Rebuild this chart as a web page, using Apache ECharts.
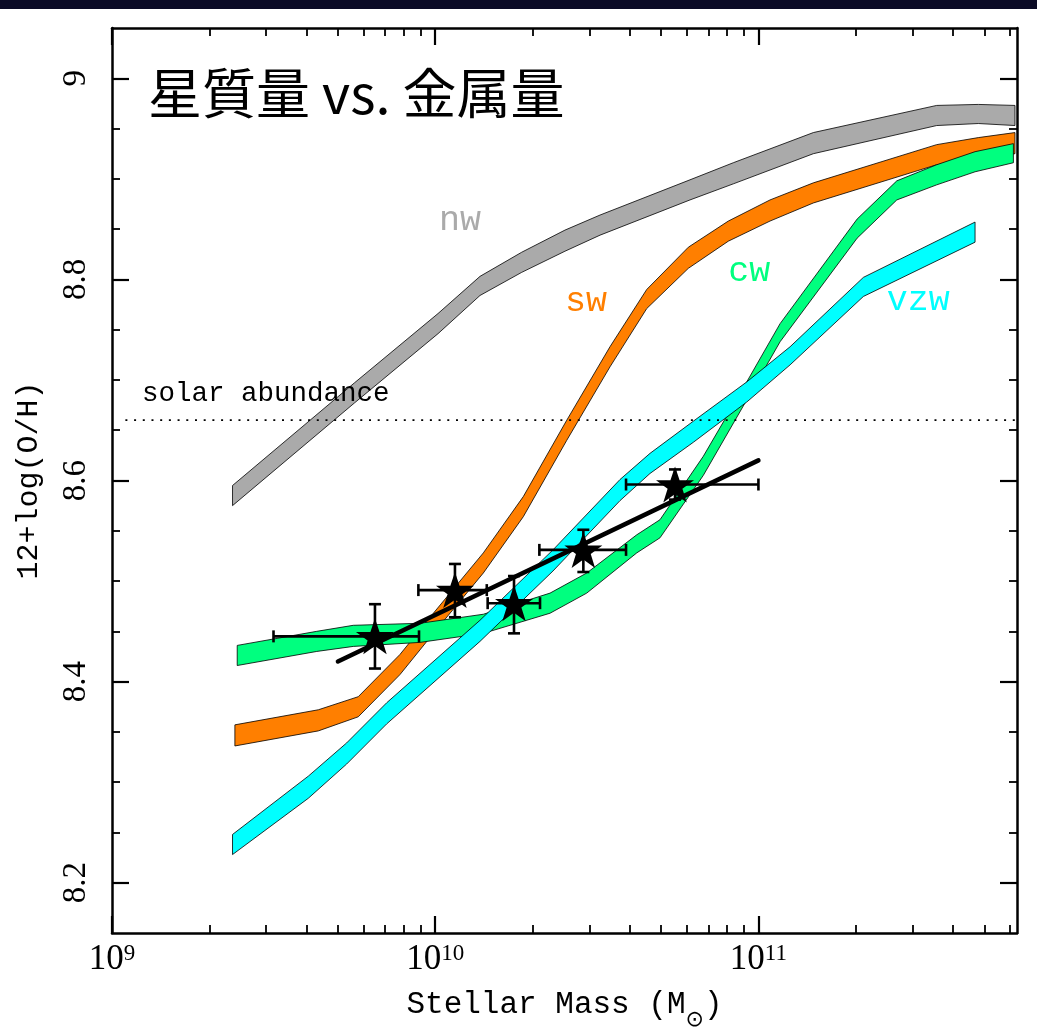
<!DOCTYPE html>
<html><head><meta charset="utf-8">
<script src="https://cdn.jsdelivr.net/npm/echarts@6/dist/echarts.min.js"></script>
<style>html,body{margin:0;padding:0;background:#fff}#c{width:1037px;height:1036px}</style>
</head><body><div id="c"></div>
<script>
// ---- model bands (stellar mass in Msun, 12+log(O/H) upper / lower edges) ----
const nwMass  = [2.36e9, 5.62e9, 1.02e10, 1.376e10, 1.852e10, 2.52e10, 3.236e10, 6.14e10, 8.36e10, 1.479e11, 3.56e11, 4.79e11, 6.22e11];
const nwUpper = [8.595, 8.697, 8.766, 8.803, 8.827, 8.849, 8.864, 8.899, 8.916, 8.946, 8.973, 8.974, 8.973];
const nwLower = [8.575, 8.677, 8.746, 8.784, 8.807, 8.828, 8.844, 8.879, 8.895, 8.925, 8.953, 8.955, 8.953];

const swMass  = [2.40e9, 4.35e9, 5.78e9, 7.78e9, 9.87e9, 1.409e10, 1.873e10, 2.553e10, 3.473e10, 4.513e10, 6.07e10, 8.07e10, 1.086e11, 1.479e11, 3.56e11, 4.79e11, 6.22e11];
const swUpper = [8.357, 8.372, 8.385, 8.427, 8.468, 8.528, 8.584, 8.660, 8.733, 8.790, 8.832, 8.858, 8.879, 8.896, 8.934, 8.941, 8.946];
const swLower = [8.336, 8.351, 8.365, 8.407, 8.448, 8.508, 8.564, 8.640, 8.713, 8.771, 8.811, 8.838, 8.858, 8.876, 8.914, 8.920, 8.925];

const cwMass  = [2.44e9, 4.30e9, 5.58e9, 8.97e9, 1.409e10, 2.266e10, 2.943e10, 4.203e10, 4.96e10, 6.75e10, 9.20e10, 1.167e11, 2.02e11, 2.68e11, 3.56e11, 4.68e11, 6.15e11];
const cwUpper = [8.436, 8.450, 8.456, 8.458, 8.467, 8.488, 8.508, 8.546, 8.561, 8.624, 8.698, 8.756, 8.860, 8.898, 8.914, 8.927, 8.935];
const cwLower = [8.416, 8.430, 8.435, 8.439, 8.448, 8.468, 8.488, 8.528, 8.543, 8.605, 8.680, 8.738, 8.841, 8.879, 8.894, 8.907, 8.916];

const vzwMass  = [2.36e9, 4.05e9, 5.32e9, 7.08e9, 1.376e10, 2.314e10, 3.731e10, 4.62e10, 6.29e10, 9.20e10, 1.253e11, 2.112e11, 4.68e11];
const vzwUpper = [8.248, 8.306, 8.339, 8.379, 8.461, 8.531, 8.601, 8.627, 8.659, 8.698, 8.733, 8.802, 8.857];
const vzwLower = [8.228, 8.284, 8.318, 8.358, 8.440, 8.510, 8.580, 8.607, 8.638, 8.678, 8.715, 8.783, 8.837];

// ---- observed points ----
const obsMass   = [6.51e9, 1.151e10, 1.753e10, 2.873e10, 5.52e10];
const obsOH     = [8.445, 8.491, 8.478, 8.531, 8.596];
const obsMassLo = [3.16e9, 8.87e9, 1.453e10, 2.10e10, 3.894e10];
const obsMassHi = [8.91e9, 1.444e10, 2.11e10, 3.894e10, 1.0e11];
const obsOHLo   = [8.413, 8.464, 8.448, 8.509, 8.581];
const obsOHHi   = [8.477, 8.517, 8.505, 8.551, 8.611];

// ---- fit line and solar abundance ----
const fitMass = [5.0e9, 1.0e11];
const fitOH   = [8.42, 8.62];
const solarMass = [1.1e9, 6.31e11];
const solarOH   = [8.66, 8.66];

// ---- labels ----
const bandLabels    = ['nw', 'sw', 'cw', 'vzw'];
const bandLabelMass = [1.193e10, 2.926e10, 9.365e10, 3.124e11];
const bandLabelOH   = [8.858, 8.778, 8.808, 8.7785];
const solarLabel = 'solar abundance';
const solarLabelMass = 1.238e9;
const solarLabelOH = 8.6865;
const titleText = '星質量 vs. 金属量';

// ---- ticks ----
const xMajorTicks = [1e9, 1e10, 1e11];
const xMinorTicks = [2e9,3e9,4e9,5e9,6e9,7e9,8e9,9e9, 2e10,3e10,4e10,5e10,6e10,7e10,8e10,9e10, 2e11,3e11,4e11,5e11,6e11];
const yMajorTicks = [8.2, 8.4, 8.6, 8.8, 9.0];
const yTickLabels = ['8.2', '8.4', '8.6', '8.8', '9'];
const yMinorTicks = [8.25,8.3,8.35, 8.45,8.5,8.55, 8.65,8.7,8.75, 8.85,8.9,8.95];

const colors = {nw:'#aaaaaa', sw:'#ff7f00', cw:'#00ff7f', vzw:'#00ffff'};
const XMIN = 1e9, XMAX = 6.31e11, YMIN = 8.15, YMAX = 9.05;

function bandSeries(name, mass, up, low, color) {
  return {
    type: 'custom', name, coordinateSystem: 'cartesian2d', clip: true, silent: true,
    data: mass.map((m, i) => [m, up[i], low[i]]),
    encode: {x: 0, y: [1, 2]},
    renderItem(params, api) {
      if (params.dataIndex !== 0) return null;
      const pts = [];
      for (let i = 0; i < mass.length; i++) pts.push(api.coord([mass[i], up[i]]));
      for (let i = mass.length - 1; i >= 0; i--) pts.push(api.coord([mass[i], low[i]]));
      return {type: 'polygon', shape: {points: pts}, style: {fill: color, stroke: '#000', lineWidth: 0.8}};
    }
  };
}

function xAxisDef(pos, ticks, len, opts) {
  return Object.assign({
    type: 'log', logBase: 10, min: XMIN, max: XMAX, position: pos,
    axisLine: {show: false, onZero: false},
    axisTick: {show: true, inside: true, length: len, customValues: ticks, lineStyle: {color: '#000', width: len > 10 ? 2.2 : 1.8}},
    axisLabel: {show: false},
    splitLine: {show: false}, minorTick: {show: false}, minorSplitLine: {show: false}
  }, opts || {});
}
function yAxisDef(pos, ticks, len, opts) {
  return Object.assign({
    type: 'value', min: YMIN, max: YMAX, position: pos,
    axisLine: {show: false, onZero: false},
    axisTick: {show: true, inside: true, length: len, customValues: ticks, lineStyle: {color: '#000', width: len > 10 ? 2.2 : 1.8}},
    axisLabel: {show: false},
    splitLine: {show: false}, minorTick: {show: false}, minorSplitLine: {show: false}
  }, opts || {});
}
const frameLine = {show: true, onZero: false, lineStyle: {color: '#000', width: 2.5}};

const option = {
  animation: false,
  backgroundColor: '#ffffff',
  title: {
    text: titleText, left: 148, top: 66, padding: 0,
    textStyle: {fontFamily: '"Noto Sans CJK JP"', fontSize: 54, fontWeight: 'normal', color: '#000'}
  },
  graphic: [{type: 'rect', left: 0, top: 0, shape: {width: 1037, height: 9}, style: {fill: '#0b0b26'}, z: 100}],
  grid: {left: 112, top: 28, right: 20, bottom: 103, containLabel: false},
  xAxis: [
    xAxisDef('bottom', xMajorTicks, 17, {
      axisLine: frameLine,
      axisLabel: {
        show: true, customValues: xMajorTicks, margin: 9,
        formatter: v => '{b|10}{s|' + Math.round(Math.log10(v)) + '}',
        rich: {
          b: {fontFamily: '"Liberation Serif"', fontSize: 35, lineHeight: 35, padding: [5, 0, 0, 0], verticalAlign: 'bottom', color: '#000'},
          s: {fontFamily: '"Liberation Serif"', fontSize: 23, lineHeight: 23, verticalAlign: 'top', color: '#000'}
        }
      },
      name: 'Stellar Mass (M{sub|⊙})', nameLocation: 'middle', nameGap: 56,
      nameTextStyle: {
        fontFamily: '"Liberation Mono"', fontSize: 31, color: '#000', lineHeight: 31, verticalAlign: 'top',
        rich: {sub: {fontFamily: '"DejaVu Sans"', fontSize: 22, lineHeight: 22, padding: [20, 0, 0, 0], verticalAlign: 'top', color: '#000'}}
      }
    }),
    xAxisDef('bottom', xMinorTicks, 8),
    xAxisDef('top', xMajorTicks, 17, {axisLine: frameLine}),
    xAxisDef('top', xMinorTicks, 8)
  ],
  yAxis: [
    yAxisDef('left', yMajorTicks, 17, {
      axisLine: frameLine,
      axisLabel: {
        show: true, customValues: yMajorTicks, rotate: 90, margin: 19,
        formatter: v => { const k = yMajorTicks.findIndex(t => Math.abs(t - v) < 1e-6); return k >= 0 ? yTickLabels[k] : ''; },
        fontFamily: '"Liberation Serif"', fontSize: 33, color: '#000'
      },
      name: '12+log(O/H)', nameLocation: 'middle', nameGap: 68,
      nameTextStyle: {fontFamily: '"Liberation Mono"', fontSize: 30, color: '#000'}
    }),
    yAxisDef('left', yMinorTicks, 8),
    yAxisDef('right', yMajorTicks, 17, {axisLine: frameLine}),
    yAxisDef('right', yMinorTicks, 8)
  ],
  series: [
    bandSeries('nw', nwMass, nwUpper, nwLower, colors.nw),
    bandSeries('sw', swMass, swUpper, swLower, colors.sw),
    bandSeries('cw', cwMass, cwUpper, cwLower, colors.cw),
    bandSeries('vzw', vzwMass, vzwUpper, vzwLower, colors.vzw),
    {
      type: 'line', name: 'solar', data: solarMass.map((m, i) => [m, solarOH[i]]),
      symbol: 'none', silent: true, lineStyle: {color: '#000', width: 1.6, type: [2, 6.7], opacity: 1}, z: 3
    },
    {
      type: 'custom', name: 'labels', coordinateSystem: 'cartesian2d', silent: true, z: 3,
      data: bandLabels.map((t, i) => [bandLabelMass[i], bandLabelOH[i]]),
      renderItem(params, api) {
        const i = params.dataIndex;
        const p = api.coord([bandLabelMass[i], bandLabelOH[i]]);
        return {type: 'text', x: p[0], y: p[1], style: {
          text: bandLabels[i], fill: colors[bandLabels[i]], fontFamily: '"Liberation Mono"', fontSize: 35,
          align: 'center', verticalAlign: 'middle'}};
      }
    },
    {
      type: 'custom', name: 'solarLabel', coordinateSystem: 'cartesian2d', silent: true, z: 3,
      data: [[solarLabelMass, solarLabelOH]],
      renderItem(params, api) {
        const p = api.coord([solarLabelMass, solarLabelOH]);
        return {type: 'text', x: p[0], y: p[1], style: {
          text: solarLabel, fill: '#000', fontFamily: '"Liberation Mono"', fontSize: 27.5,
          align: 'left', verticalAlign: 'middle'}};
      }
    },
    {
      type: 'custom', name: 'errors', coordinateSystem: 'cartesian2d', silent: true, z: 4,
      data: obsMass.map((m, i) => [m, obsOH[i], obsMassLo[i], obsMassHi[i], obsOHLo[i], obsOHHi[i]]),
      encode: {x: [0, 2, 3], y: [1, 4, 5]},
      renderItem(params, api) {
        const x = api.value(0), y = api.value(1);
        const l = api.coord([api.value(2), y]);
        const r = api.coord([api.value(3), y]);
        const b = api.coord([x, api.value(4)]);
        const t = api.coord([x, api.value(5)]);
        const cap = 6;
        const st = {stroke: '#000', lineWidth: 2.6};
        const ln = (x1, y1, x2, y2) => ({type: 'line', shape: {x1, y1, x2, y2}, style: st});
        return {type: 'group', children: [
          ln(l[0], l[1], r[0], r[1]),
          ln(l[0], l[1] - cap, l[0], l[1] + cap),
          ln(r[0], r[1] - cap, r[0], r[1] + cap),
          ln(t[0], t[1], b[0], b[1]),
          ln(t[0] - cap, t[1], t[0] + cap, t[1]),
          ln(b[0] - cap, b[1], b[0] + cap, b[1])
        ]};
      }
    },
    {
      type: 'line', name: 'fit', data: fitMass.map((m, i) => [m, fitOH[i]]),
      symbol: 'none', silent: true, lineStyle: {color: '#000', width: 4.5, cap: 'round', opacity: 1}, z: 5
    },
    {
      type: 'scatter', name: 'obs', data: obsMass.map((m, i) => [m, obsOH[i]]),
      symbol: 'path://M50,0 L61.8,35.1 L98.9,35.1 L69,56.9 L80.2,92.1 L50,70.5 L19.8,92.1 L31,56.9 L1.1,35.1 L38.2,35.1 Z',
      symbolSize: [38, 36], itemStyle: {color: '#000', opacity: 1}, silent: true, z: 6
    }
  ]
};
const chart = echarts.init(document.getElementById('c'), null, {renderer: 'canvas'});
chart.setOption(option);
</script>
</body></html>
